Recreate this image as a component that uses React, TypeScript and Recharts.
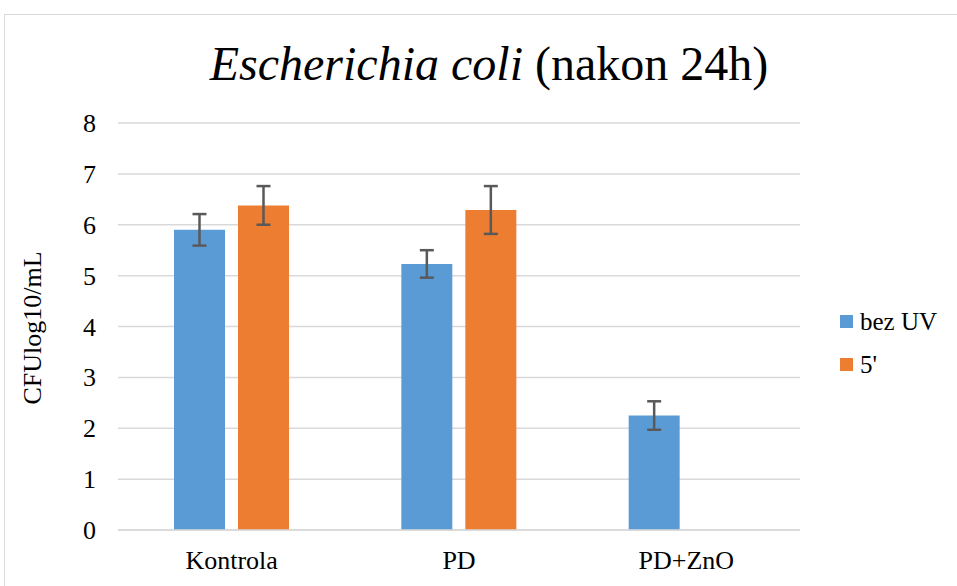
import { BarChart, Bar, XAxis, YAxis, CartesianGrid, ErrorBar, Legend } from "recharts";

const categories = ["Kontrola", "PD", "PD+ZnO"];
const bezUV = [5.9, 5.23, 2.25];
const bezUVErr = [0.31, 0.27, 0.28];
const pet = [6.38, 6.29, null];
const petErr = [0.38, 0.47, null];
const yTicks = [0, 1, 2, 3, 4, 5, 6, 7, 8];
const seriesNames = ["bez UV", "5'"];
const seriesColors = ["#5B9BD5", "#ED7D31"];

const data = categories.map((name, i) => ({
  name,
  bezUV: bezUV[i],
  bezUVErr: bezUVErr[i],
  pet: pet[i],
  petErr: petErr[i],
}));

const FONT = "'Liberation Serif', 'Times New Roman', serif";

function XTick(props: any) {
  return (
    <text x={props.x} y={props.y} dy={31} textAnchor="middle" fill="#000" style={{ fontSize: 26, fontFamily: FONT }}>
      {props.payload.value}
    </text>
  );
}

function YTick(props: any) {
  return (
    <text x={props.x} y={props.y} dx={-14} dy={9} textAnchor="end" fill="#000" style={{ fontSize: 26, fontFamily: FONT }}>
      {props.payload.value}
    </text>
  );
}

function LegendBox() {
  return (
    <div style={{ fontFamily: FONT, fontSize: 25, color: "#000" }}>
      {seriesNames.map((n, i) => (
        <div key={n} style={{ display: "flex", alignItems: "center", height: 43 }}>
          <span style={{ width: 13, height: 13, background: seriesColors[i], marginRight: 7, display: "inline-block" }} />
          {n}
        </div>
      ))}
    </div>
  );
}

export default function App() {
  return (
    <div style={{ position: "fixed", left: 0, top: 0, width: 957, height: 586, overflow: "hidden", background: "#fff" }}>
      <div style={{ position: "absolute", left: 4, top: 14, width: 1000, height: 700, border: "1.5px solid #d9d9d9" }} />
      <svg style={{ position: "absolute", left: 0, top: 0 }} width={957} height={120}>
        <text x={489} y={80} textAnchor="middle" fill="#000" style={{ fontSize: 48, fontFamily: FONT }}>
          <tspan style={{ fontStyle: "italic" }}>Escherichia coli</tspan> (nakon 24h)
        </text>
      </svg>
      <div style={{ position: "absolute", left: 0, top: 0 }}>
        <BarChart
          width={957}
          height={586}
          data={data}
          margin={{ top: 123, right: 157, bottom: 0, left: 0 }}
          barSize={51}
          barGap={13}
        >
          <CartesianGrid vertical={false} stroke="#d9d9d9" strokeWidth={1.5} />
          <XAxis
            dataKey="name"
            height={56}
            tickLine={false}
            axisLine={{ stroke: "#d9d9d9", strokeWidth: 1.5 }}
            tick={<XTick />}
          />
          <YAxis
            width={118}
            domain={[0, 8]}
            ticks={yTicks}
            tickLine={false}
            axisLine={false}
            tick={<YTick />}
            label={() => (
              <text
                x={32}
                y={0}
                transform="translate(32 328) rotate(-90) translate(-32 9)"
                textAnchor="middle"
                fill="#000"
                style={{ fontSize: 26, fontFamily: FONT }}
              >
                CFUlog10/mL
              </text>
            )}
          />
          <Legend
            layout="horizontal"
            align="center"
            verticalAlign="middle"
            wrapperStyle={{ left: 840, top: 300, width: 117 }}
            content={<LegendBox />}
          />
          <Bar dataKey="bezUV" name={seriesNames[0]} fill={seriesColors[0]} isAnimationActive={false}>
            <ErrorBar dataKey="bezUVErr" width={7} stroke="#595959" strokeWidth={2.5} />
          </Bar>
          <Bar dataKey="pet" name={seriesNames[1]} fill={seriesColors[1]} isAnimationActive={false}>
            <ErrorBar dataKey="petErr" width={7} stroke="#595959" strokeWidth={2.5} />
          </Bar>
        </BarChart>
      </div>
    </div>
  );
}
